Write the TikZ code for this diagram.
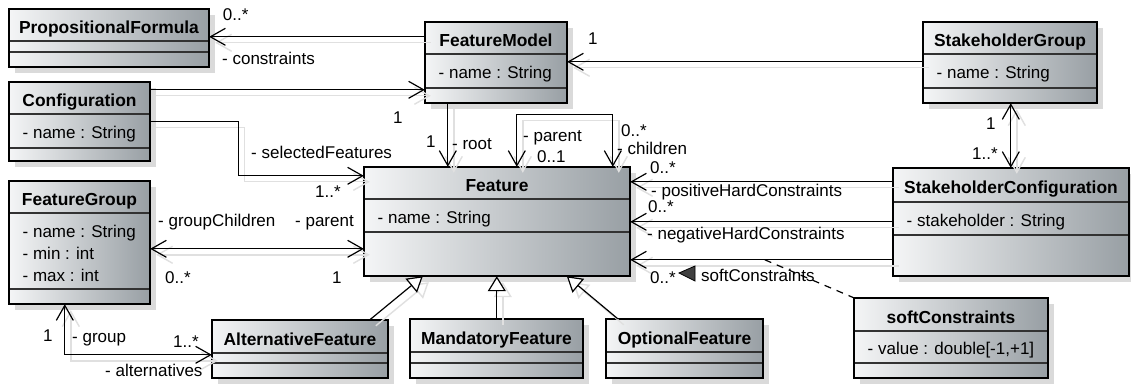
\documentclass[tikz,border=0pt]{standalone}
\usepackage{fontspec}
\setmainfont{Liberation Sans}
\usetikzlibrary{arrows.meta,calc,fit}

\definecolor{shadegray}{RGB}{218,218,218}
\definecolor{boxlight}{RGB}{244,245,246}
\definecolor{boxdark}{RGB}{152,159,164}
\definecolor{compgray}{RGB}{50,50,50}

\tikzset{
  boxshade/.style={fill=shadegray},
  boxfill/.style={left color=boxlight, right color=boxdark},
  boxframe/.style={draw=black, line width=2.8pt},
  compline/.style={draw=compgray, line width=1.1pt},
  titletext/.style={font=\fontsize{17.4}{21}\selectfont\bfseries, inner sep=0pt},
  attrtext/.style={font=\fontsize{17}{21}\selectfont, inner sep=0pt},
  lbl/.style={font=\fontsize{17}{21}\selectfont, inner sep=0pt, anchor=base west},
  conn/.style={draw=black, line width=1.2pt,
    preaction={draw=black!12, line width=1.4pt, transform canvas={shift={(6pt,-6pt)}}}},
  nav/.style={-{Straight Barb[length=15pt,width=17pt]}},
  bothnav/.style={{Straight Barb[length=15pt,width=17pt]}-{Straight Barb[length=15pt,width=17pt]}},
  inherit/.style={-{Triangle[length=15pt,width=18pt,fill=white]}},
}

% class box: name, x1, y1, x2, y2, header line, attribute line, title, attribute
\newcommand\umlbox[9]{%
  \fill[boxshade] (#2+6,#3+6) rectangle (#4+6,#5+6);
  \path[boxfill] (#2,#3) rectangle (#4,#5);
  \draw[compline] (#2,#6) -- (#4,#6) (#2,#7) -- (#4,#7);
  \draw[boxframe] (#2,#3) rectangle (#4,#5);
  \node[fit={(#2,#3) (#4,#5)}, inner sep=0pt] (#1) {};
  \node[titletext, anchor=base] (#1-title) at ({(#2+#4)/2},{(#3+#6)/2+9}) {#8};
  \node[attrtext, anchor=base west] (#1-attr) at (#2+13.5,{(#6+#7)/2+7.5}) {#9};
}

\begin{document}
\begin{tikzpicture}[x=1pt, y=-1pt]
\useasboundingbox (0,0) rectangle (1131,387);
\fill[white] (0,0) rectangle (1131,387);

% classes
\umlbox{pf}{9}{9}{209}{67}{41}{52}{PropositionalFormula}{}
\umlbox{cfg}{9}{82}{150}{161}{114}{148}{Configuration}{- name : String}
\umlbox{fg}{9}{181}{150}{304}{213}{289}{FeatureGroup}{}
\node[attrtext, anchor=base west] (fg-a1) at (22.5,237) {- name : String};
\node[attrtext, anchor=base west] (fg-a2) at (22.5,259) {- min : int};
\node[attrtext, anchor=base west] (fg-a3) at (22.5,281) {- max : int};
\umlbox{fm}{425}{22}{567}{103}{54}{88}{FeatureModel}{- name : String}
\umlbox{feat}{364}{167}{630}{276}{199}{232}{Feature}{- name : String}
\umlbox{af}{212}{320}{388}{378}{353}{363}{AlternativeFeature}{}
\umlbox{mf}{410}{319}{583}{378}{352}{363}{MandatoryFeature}{}
\umlbox{of}{606}{319}{763}{378}{352}{363}{OptionalFeature}{}
\umlbox{sg}{923}{22}{1097}{103}{54}{88}{StakeholderGroup}{- name : String}
\umlbox{sc}{893}{168}{1129}{276}{202}{235}{StakeholderConfiguration}{- stakeholder : String}
\umlbox{soft}{854}{298}{1048}{378}{331}{363}{softConstraints}{- value : double[-1,+1]}

% associations
\draw[conn, nav] ($(fm.north west)+(0,15)$) -- ($(pf.north east)+(0,28)$);
\draw[conn, nav] ($(cfg.north east)+(0,8)$) -- ($(fm.north west)+(0,68)$);
\draw[conn, nav] ($(cfg.north east)+(0,40)$) -- ($(cfg.north east)+(88,40)$)
  |- ($(feat.north west)+(0,9)$);
\draw[conn, nav] ($(fm.south west)+(23,0)$) -- ($(feat.north west)+(84,0)$);
\draw[conn, bothnav] ($(feat.north west)+(153,0)$) |- ($(feat.north west)+(249,-52)$)
  -- ($(feat.north west)+(249,0)$);
\draw[conn, nav] ($(sg.north west)+(0,40)$) -- ($(fm.north east)+(0,40)$);
\draw[conn, bothnav] ($(sg.south west)+(88,0)$) -- ($(sc.north west)+(118,0)$);
\draw[conn, nav] ($(sc.north west)+(0,14)$) -- ($(feat.north east)+(0,15)$);
\draw[conn, nav] ($(sc.north west)+(0,54)$) -- ($(feat.north east)+(0,55)$);
\draw[conn, nav] ($(sc.north west)+(0,92)$) -- ($(feat.north east)+(0,93)$);
\draw[conn, bothnav] ($(fg.north east)+(0,68)$) -- ($(feat.north west)+(0,82)$);
\draw[conn, bothnav] ($(fg.south west)+(56,0)$) |- ($(af.north west)+(0,35)$);

% association class link
\coordinate (softmid) at ($(sc.north west)+(-128,92)$);
\draw[line width=1.2pt, dash pattern=on 7pt off 6pt] (softmid) -- (soft.north west);

% generalizations
\draw[conn, inherit] ($(af.north west)+(158,0)$) -- ($(feat.south west)+(59,0)$);
\draw[conn, inherit] ($(mf.north west)+(87,0)$) -- ($(feat.south west)+(133,0)$);
\draw[conn, inherit] ($(of.north west)+(12,0)$) -- ($(feat.south west)+(203,0)$);

% role names and multiplicities
\node[lbl] (m1) at (222.7,20.7) {0..*};
\node[lbl] (r1) at (222,65) {- constraints};
\node[lbl] (m2) at (393,124) {1};
\node[lbl] (r2) at (251,159) {- selectedFeatures};
\node[lbl] (m3) at (315,198) {1..*};
\node[lbl] (m4) at (426,148) {1};
\node[lbl] (r3) at (452,150) {- root};
\node[lbl] (r4) at (523,142) {- parent};
\node[lbl] (m5) at (537,163) {0..1};
\node[lbl] (m6) at (621,137) {0..*};
\node[lbl] (r5) at (617,155) {- children};
\node[lbl] (m7) at (588,45) {1};
\node[lbl] (m8) at (986,130) {1};
\node[lbl] (m9) at (972,160) {1..*};
\node[lbl] (m10) at (650,174) {0..*};
\node[lbl] (r6) at (651,197) {- positiveHardConstraints};
\node[lbl] (m11) at (648,213) {0..*};
\node[lbl] (r7) at (647,240) {- negativeHardConstraints};
\node[lbl] (m12) at (650,283) {0..*};
\node[lbl] (r8) at (701,281) {softConstraints};
\node[lbl] (r9) at (158,227) {- groupChildren};
\node[lbl] (r10) at (295,227) {- parent};
\node[lbl] (m13) at (165,283) {0..*};
\node[lbl] (m14) at (332,283) {1};
\node[lbl] (m15) at (43,341) {1};
\node[lbl] (r11) at (72,342) {- group};
\node[lbl] (m16) at (173,347) {1..*};
\node[lbl] (r12) at (105,376) {- alternatives};

% reading direction marker
\filldraw[draw=black, fill=black!75, line width=0.8pt] (679,273) -- (695,266) -- (695,281) -- cycle;
\end{tikzpicture}
\end{document}
